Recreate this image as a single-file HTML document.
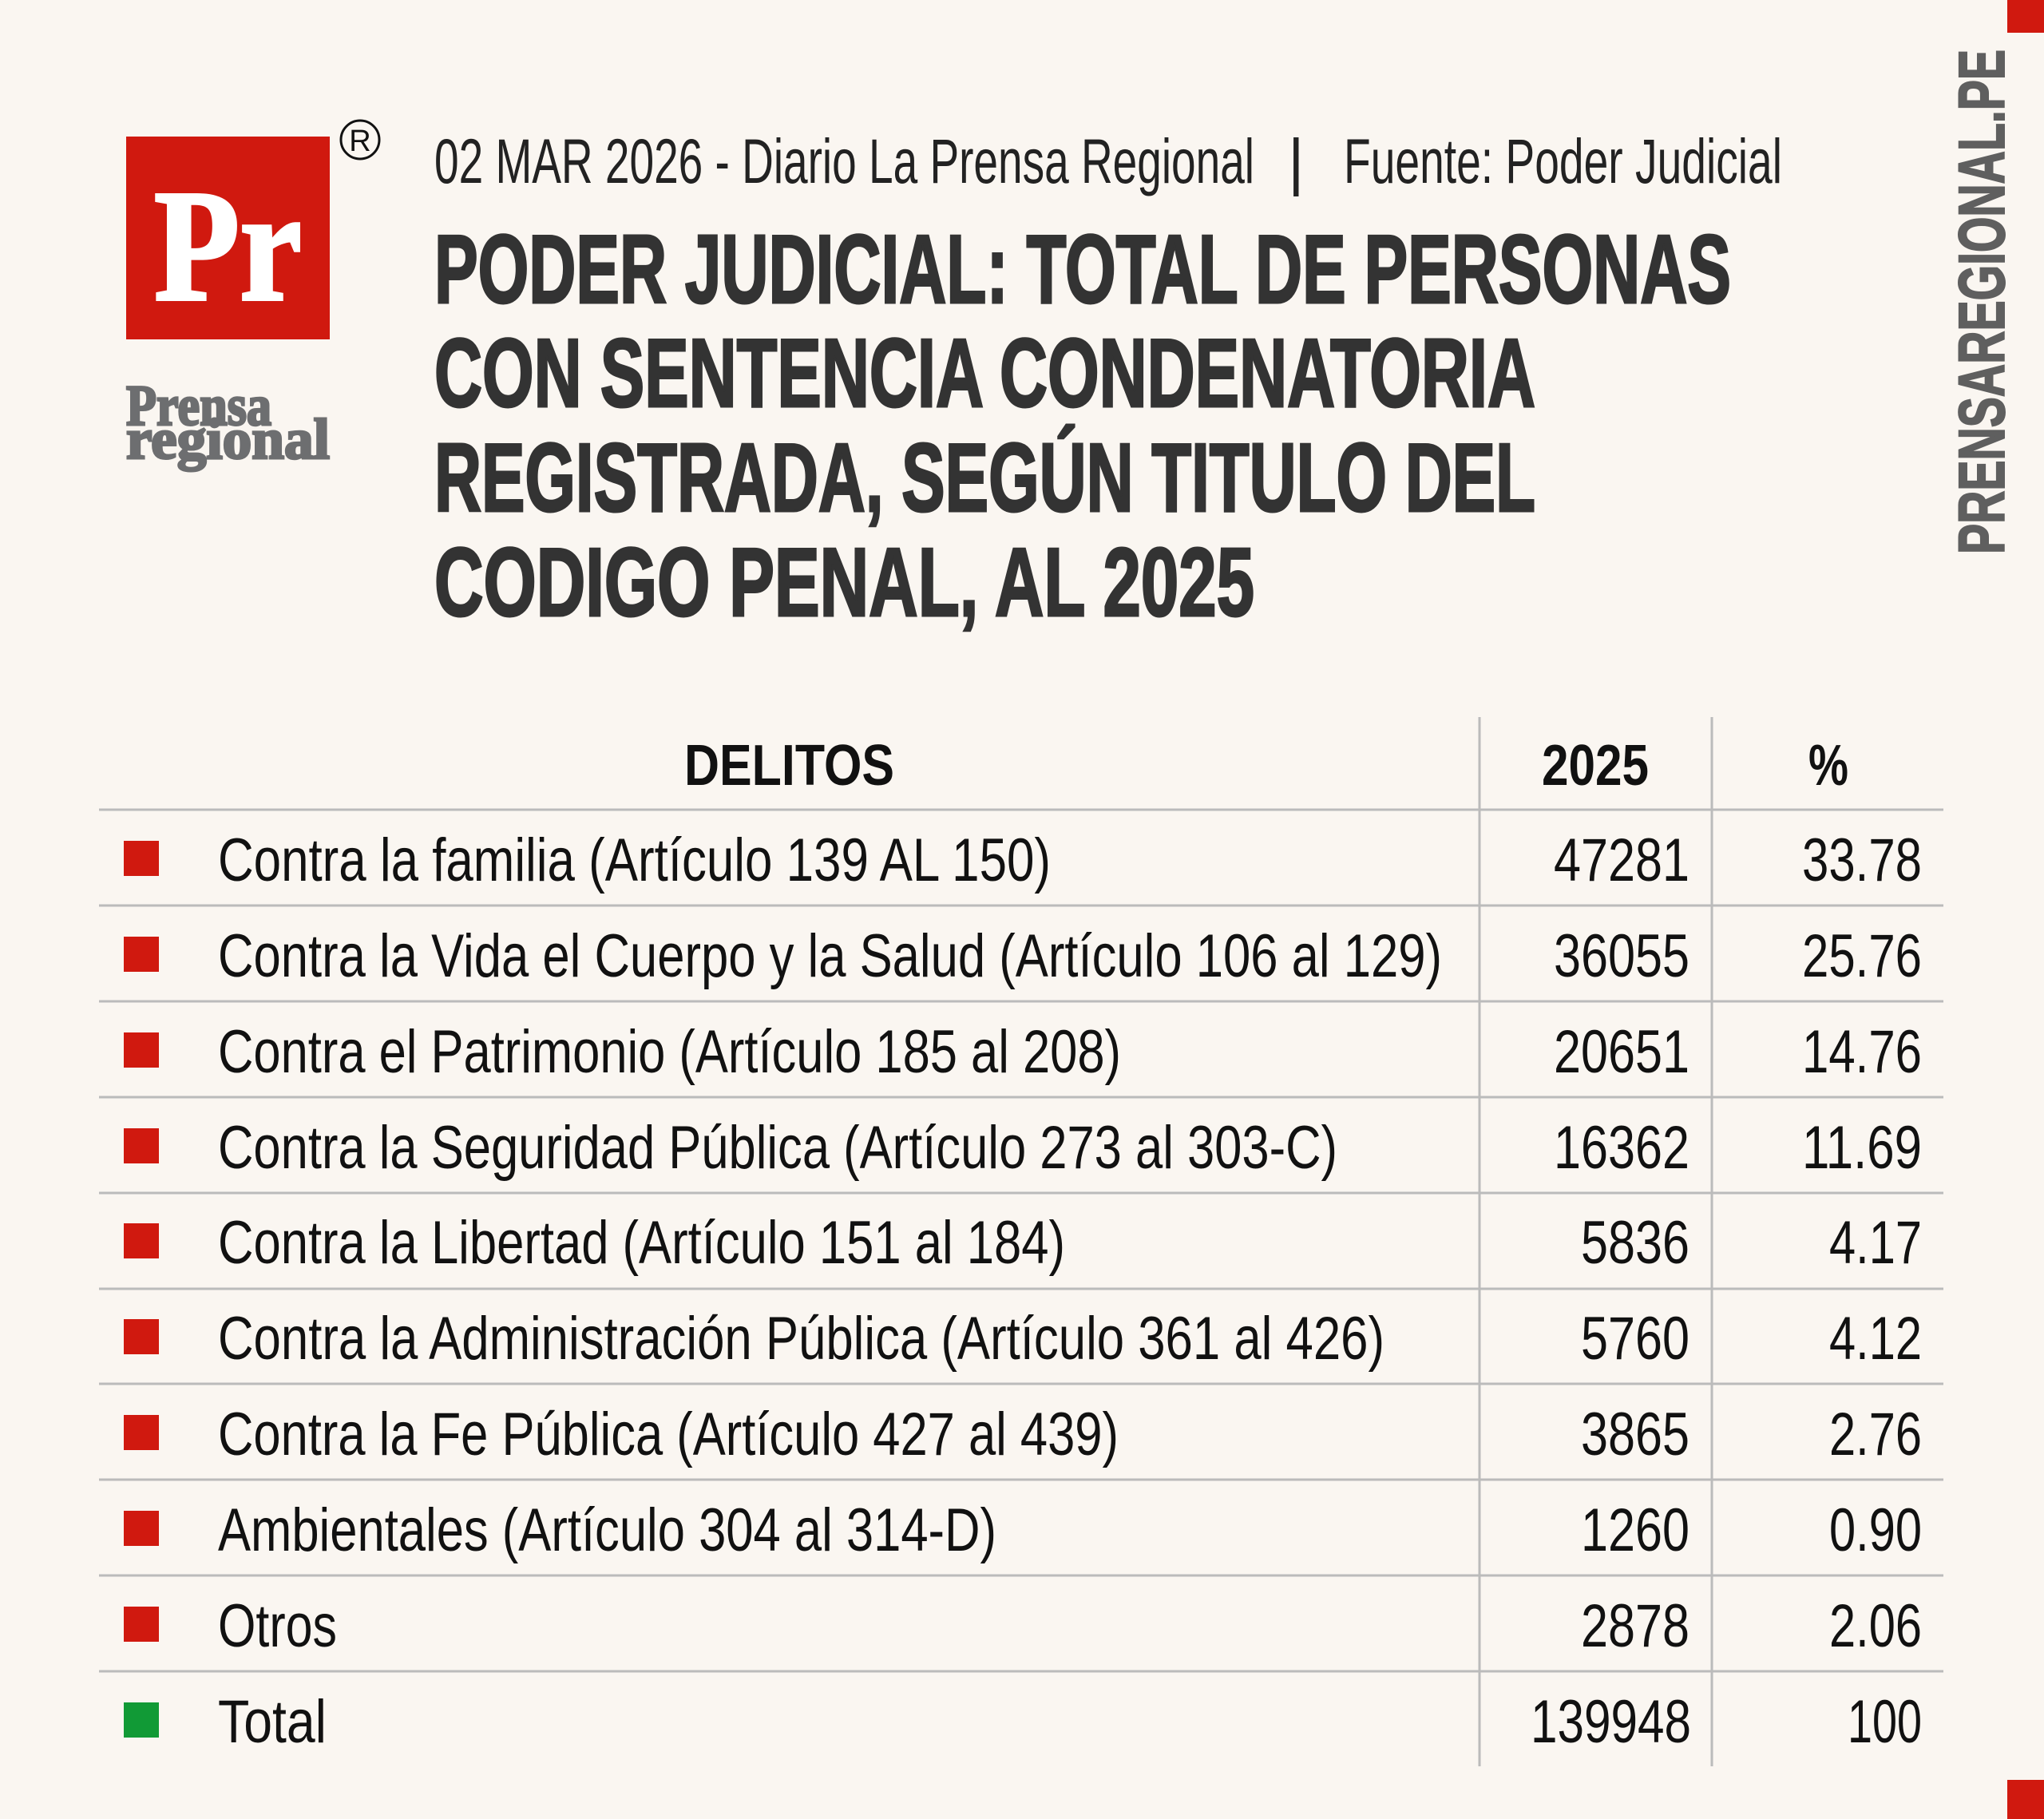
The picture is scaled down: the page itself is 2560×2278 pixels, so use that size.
<!DOCTYPE html>
<html><head><meta charset="utf-8"><style>html,body{margin:0;padding:0;background:#faf6f1}svg{display:block}</style></head>
<body>
<svg width="2560" height="2278" viewBox="0 0 2560 2278" xmlns="http://www.w3.org/2000/svg" font-family="Liberation Sans, sans-serif">
<rect width="2560" height="2278" fill="#faf6f1"/>
<rect x="2514" y="0" width="46" height="41" fill="#d0190f"/>
<rect x="2514" y="2229" width="46" height="49" fill="#d0190f"/>
<!-- logo -->
<rect x="158" y="171" width="255" height="254" fill="#d0190f"/>
<text x="193" y="375" font-family="Liberation Serif, serif" font-weight="bold" font-size="200" fill="#fff" stroke="#fff" stroke-width="4" textLength="185" lengthAdjust="spacingAndGlyphs">Pr</text>
<circle cx="451" cy="175" r="24" fill="none" stroke="#111" stroke-width="3"/>
<text x="451" y="189" font-size="38" text-anchor="middle" fill="#111">R</text>
<text x="158" y="532" font-family="Liberation Serif, serif" font-weight="bold" font-size="72" fill="#6d6e70" stroke="#6d6e70" stroke-width="3" textLength="182" lengthAdjust="spacingAndGlyphs">Prensa</text>
<text x="158" y="574" font-family="Liberation Serif, serif" font-weight="bold" font-size="72" fill="#6d6e70" stroke="#6d6e70" stroke-width="3" textLength="255" lengthAdjust="spacingAndGlyphs">regional</text>
<!-- date line -->
<g font-size="79" fill="#222">
<text x="544" y="229" textLength="1027" lengthAdjust="spacingAndGlyphs">02 MAR 2026 - Diario La Prensa Regional</text>
<text x="1613" y="229">|</text>
<text x="1683" y="229" textLength="549" lengthAdjust="spacingAndGlyphs">Fuente: Poder Judicial</text>
</g>
<!-- title -->
<g font-size="122" font-weight="bold" fill="#333" stroke="#333" stroke-width="3">
<text x="544" y="379" textLength="1624" lengthAdjust="spacingAndGlyphs">PODER JUDICIAL: TOTAL DE PERSONAS</text>
<text x="544" y="509" textLength="1379" lengthAdjust="spacingAndGlyphs">CON SENTENCIA CONDENATORIA</text>
<text x="544" y="640" textLength="1379" lengthAdjust="spacingAndGlyphs">REGISTRADA, SEGÚN TITULO DEL</text>
<text x="544" y="771" textLength="1027" lengthAdjust="spacingAndGlyphs">CODIGO PENAL, AL 2025</text>
</g>
<!-- vertical -->
<text transform="translate(2510,694) rotate(-90)" font-size="82" font-weight="bold" fill="#5f5f5f" stroke="#5f5f5f" stroke-width="2" textLength="632" lengthAdjust="spacingAndGlyphs">PRENSAREGIONAL.PE</text>
<!-- table lines -->
<g stroke="#bbb" stroke-width="3">
<line x1="1853" y1="898" x2="1853" y2="2212"/>
<line x1="2144" y1="898" x2="2144" y2="2212"/>
<line x1="124" y1="1014" x2="2434" y2="1014"/>
<line x1="124" y1="1134" x2="2434" y2="1134"/>
<line x1="124" y1="1254" x2="2434" y2="1254"/>
<line x1="124" y1="1374" x2="2434" y2="1374"/>
<line x1="124" y1="1494" x2="2434" y2="1494"/>
<line x1="124" y1="1614" x2="2434" y2="1614"/>
<line x1="124" y1="1733" x2="2434" y2="1733"/>
<line x1="124" y1="1853" x2="2434" y2="1853"/>
<line x1="124" y1="1973" x2="2434" y2="1973"/>
<line x1="124" y1="2093" x2="2434" y2="2093"/>
</g>
<!-- header -->
<g font-size="72" font-weight="bold" fill="#111">
<text x="857" y="983" textLength="263" lengthAdjust="spacingAndGlyphs">DELITOS</text>
<text x="1931" y="983" textLength="134" lengthAdjust="spacingAndGlyphs">2025</text>
<text x="2265" y="983" textLength="50" lengthAdjust="spacingAndGlyphs">%</text>
</g>
<!-- rows -->
<g fill="#d0190f">
<rect x="155" y="1053" width="44" height="44"/>
<rect x="155" y="1173" width="44" height="44"/>
<rect x="155" y="1293" width="44" height="44"/>
<rect x="155" y="1413" width="44" height="44"/>
<rect x="155" y="1532" width="44" height="44"/>
<rect x="155" y="1652" width="44" height="44"/>
<rect x="155" y="1772" width="44" height="44"/>
<rect x="155" y="1892" width="44" height="44"/>
<rect x="155" y="2012" width="44" height="44"/>
</g>
<rect x="155" y="2132" width="44" height="44" fill="#119a36"/>
<g font-size="76" fill="#111">
<text x="273" y="1103" textLength="1043" lengthAdjust="spacingAndGlyphs">Contra la familia (Artículo 139 AL 150)</text>
<text x="273" y="1223" textLength="1533" lengthAdjust="spacingAndGlyphs">Contra la Vida el Cuerpo y la Salud (Artículo 106 al 129)</text>
<text x="273" y="1343" textLength="1131" lengthAdjust="spacingAndGlyphs">Contra el Patrimonio (Artículo 185 al 208)</text>
<text x="273" y="1463" textLength="1402" lengthAdjust="spacingAndGlyphs">Contra la Seguridad Pública (Artículo 273 al 303-C)</text>
<text x="273" y="1582" textLength="1061" lengthAdjust="spacingAndGlyphs">Contra la Libertad (Artículo 151 al 184)</text>
<text x="273" y="1702" textLength="1461" lengthAdjust="spacingAndGlyphs">Contra la Administración Pública (Artículo 361 al 426)</text>
<text x="273" y="1822" textLength="1128" lengthAdjust="spacingAndGlyphs">Contra la Fe Pública (Artículo 427 al 439)</text>
<text x="273" y="1942" textLength="975" lengthAdjust="spacingAndGlyphs">Ambientales (Artículo 304 al 314-D)</text>
<text x="273" y="2062" textLength="149" lengthAdjust="spacingAndGlyphs">Otros</text>
<text x="273" y="2182" textLength="136" lengthAdjust="spacingAndGlyphs">Total</text>
</g>
<g font-size="76" fill="#111" text-anchor="end">
<text x="2116" y="1103" textLength="170" lengthAdjust="spacingAndGlyphs">47281</text>
<text x="2116" y="1223" textLength="170" lengthAdjust="spacingAndGlyphs">36055</text>
<text x="2116" y="1343" textLength="170" lengthAdjust="spacingAndGlyphs">20651</text>
<text x="2116" y="1463" textLength="170" lengthAdjust="spacingAndGlyphs">16362</text>
<text x="2116" y="1582" textLength="136" lengthAdjust="spacingAndGlyphs">5836</text>
<text x="2116" y="1702" textLength="136" lengthAdjust="spacingAndGlyphs">5760</text>
<text x="2116" y="1822" textLength="136" lengthAdjust="spacingAndGlyphs">3865</text>
<text x="2116" y="1942" textLength="136" lengthAdjust="spacingAndGlyphs">1260</text>
<text x="2116" y="2062" textLength="136" lengthAdjust="spacingAndGlyphs">2878</text>
<text x="2118" y="2182" textLength="201" lengthAdjust="spacingAndGlyphs">139948</text>
<text x="2407" y="1103" textLength="150" lengthAdjust="spacingAndGlyphs">33.78</text>
<text x="2407" y="1223" textLength="150" lengthAdjust="spacingAndGlyphs">25.76</text>
<text x="2407" y="1343" textLength="150" lengthAdjust="spacingAndGlyphs">14.76</text>
<text x="2407" y="1463" textLength="150" lengthAdjust="spacingAndGlyphs">11.69</text>
<text x="2407" y="1582" textLength="116" lengthAdjust="spacingAndGlyphs">4.17</text>
<text x="2407" y="1702" textLength="116" lengthAdjust="spacingAndGlyphs">4.12</text>
<text x="2407" y="1822" textLength="116" lengthAdjust="spacingAndGlyphs">2.76</text>
<text x="2407" y="1942" textLength="116" lengthAdjust="spacingAndGlyphs">0.90</text>
<text x="2407" y="2062" textLength="116" lengthAdjust="spacingAndGlyphs">2.06</text>
<text x="2407" y="2182" textLength="93" lengthAdjust="spacingAndGlyphs">100</text>
</g>
</svg>
</body></html>
